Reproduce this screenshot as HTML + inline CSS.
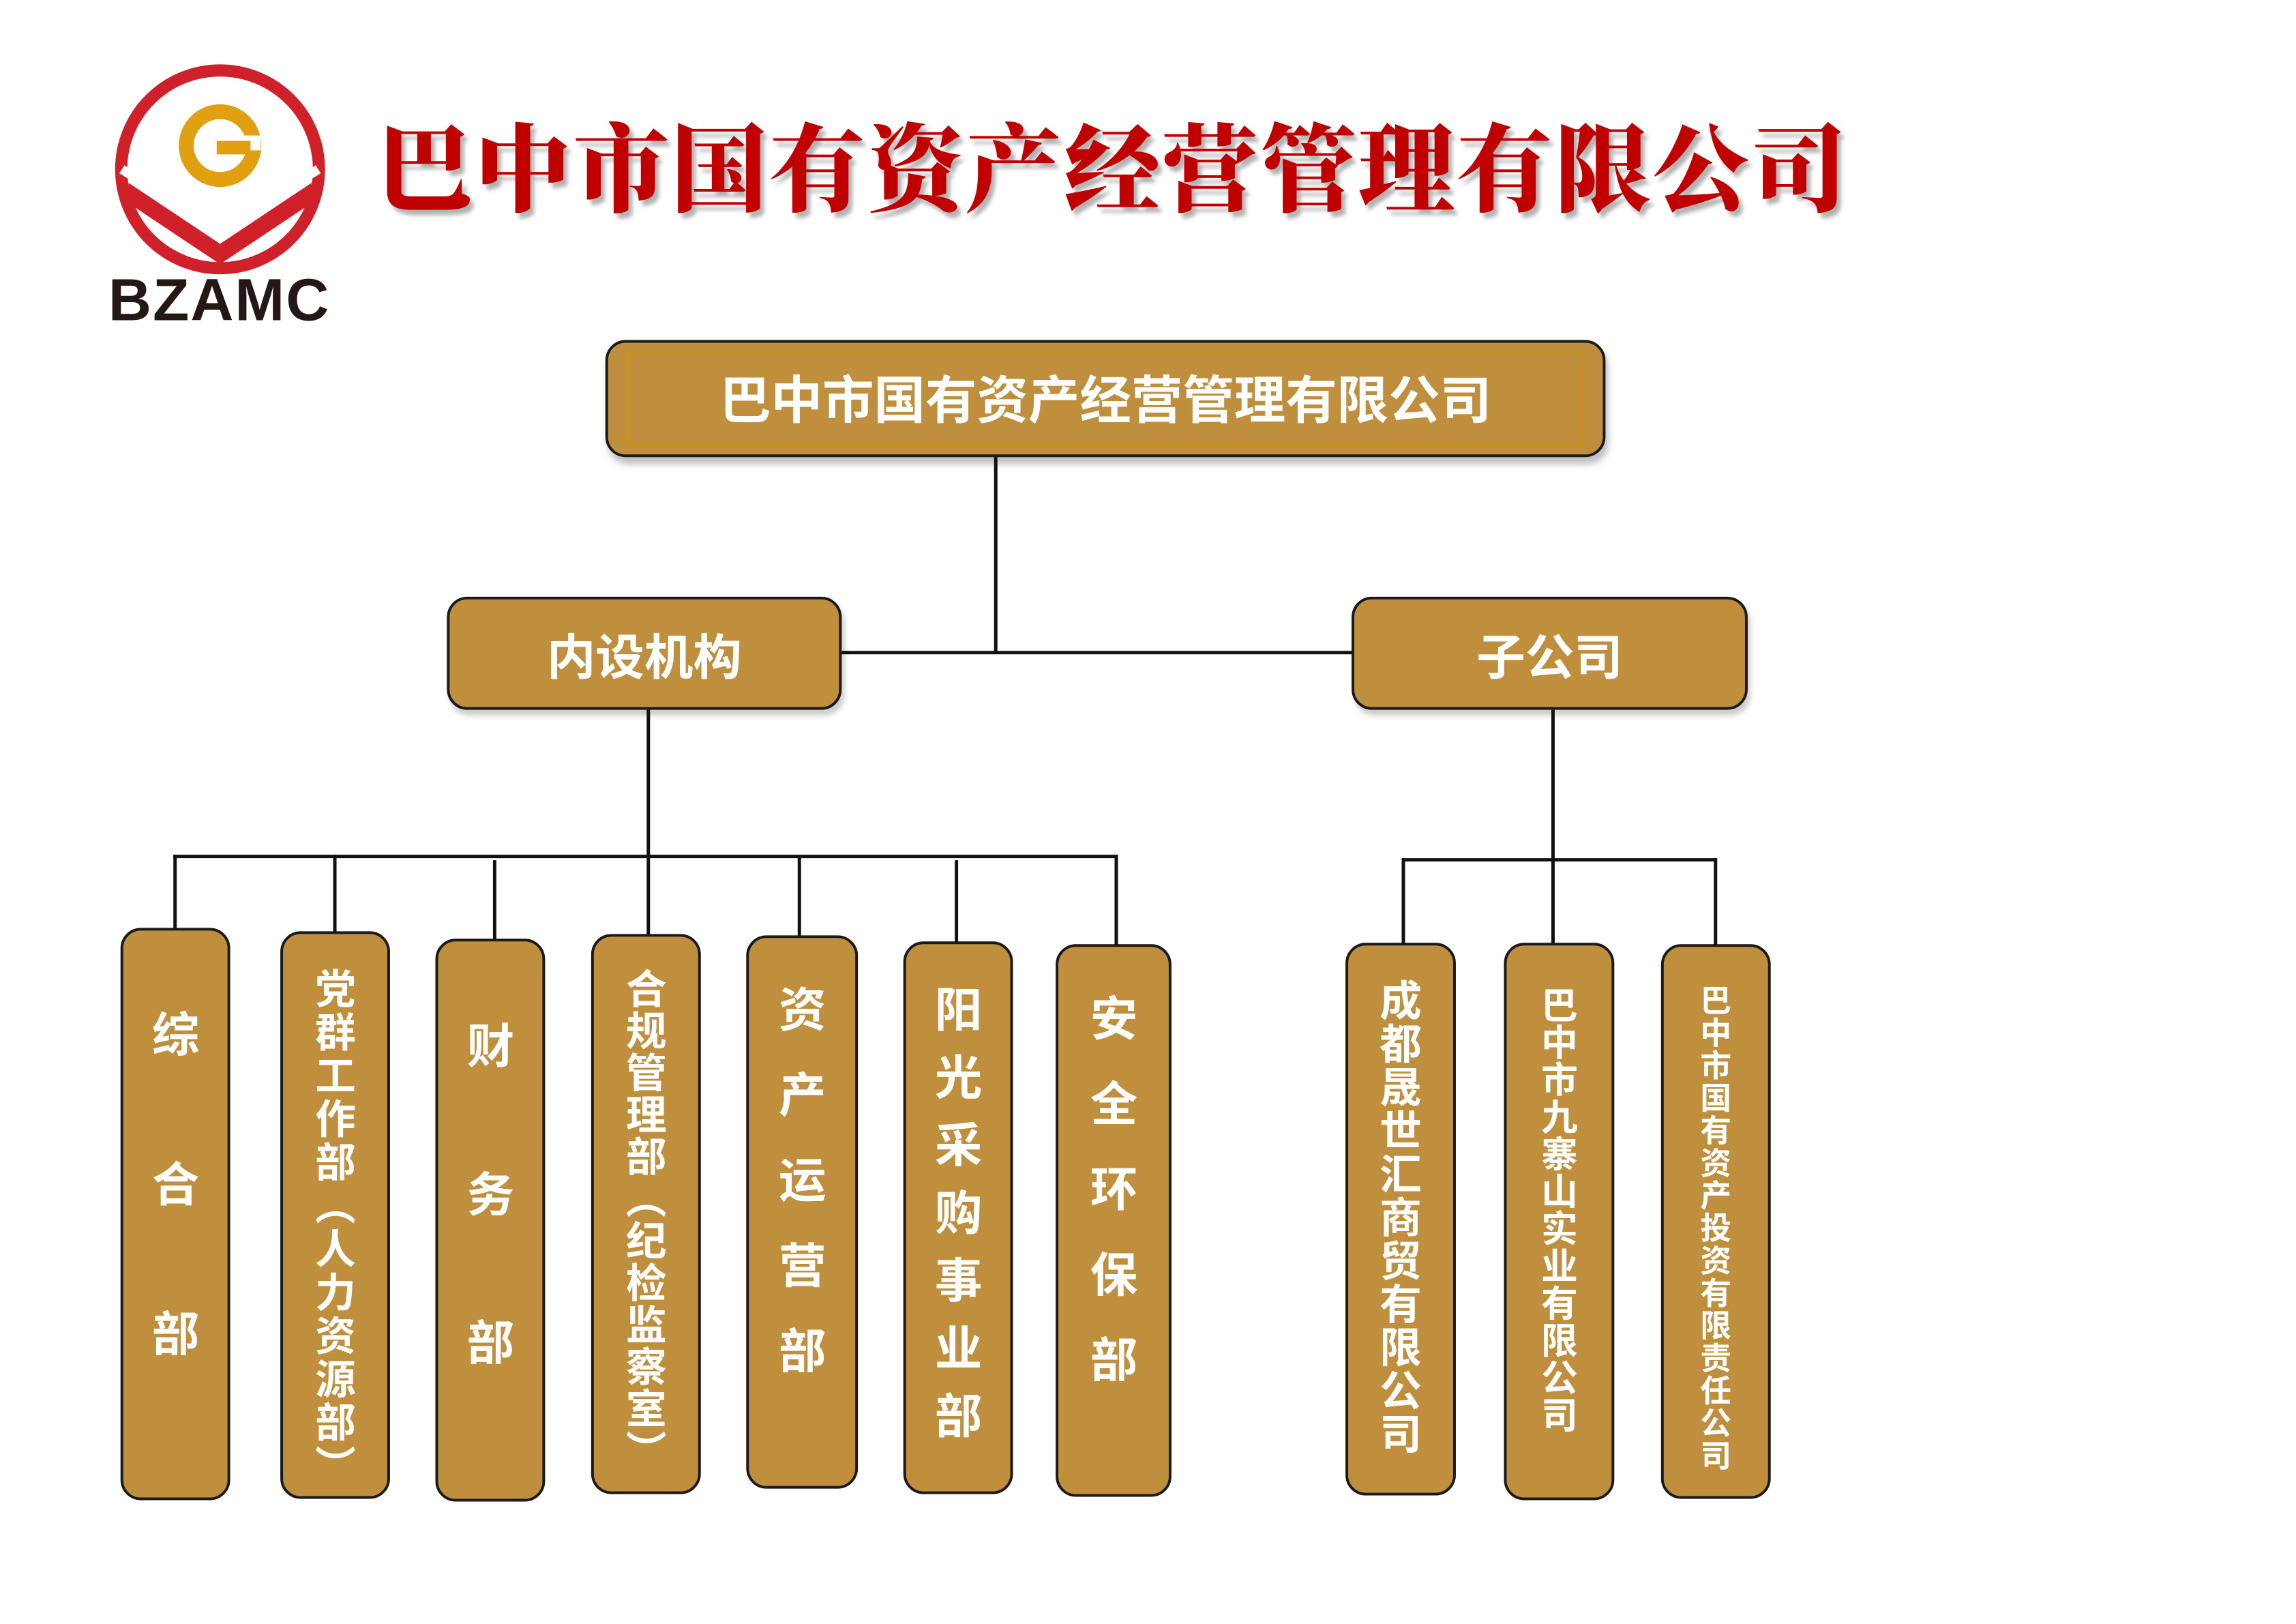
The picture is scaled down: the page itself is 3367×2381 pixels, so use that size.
<!DOCTYPE html>
<html><head><meta charset="utf-8"><style>
body{margin:0;width:3367px;height:2381px;background:#fff;position:relative;overflow:hidden;font-family:"Liberation Sans","Noto Sans CJK SC",sans-serif}
#w{position:absolute;left:0;top:0;width:3367px;height:2381px;transform:scale(0.993);transform-origin:0 0}
.b{position:absolute;background:#bf8f3e;border:4px solid #1a1a1a;border-radius:30px;box-sizing:border-box}
.t{position:absolute;color:#fff;font-weight:700;font-family:"Noto Sans CJK SC",sans-serif;white-space:nowrap}
.v{writing-mode:vertical-rl;text-orientation:upright;left:0;right:0;margin:0 auto;line-height:1}
.l{position:absolute;background:#111}
</style></head><body><div id="w">
<svg style="position:absolute;left:160px;top:90px" width="340" height="320" viewBox="0 -10 340 320">
<circle cx="165" cy="150" r="146" fill="none" stroke="#d0202a" stroke-width="18"/>
<path d="M30 170 L165 260 L300 170 L300 200 L165 290 L30 200Z" fill="#d0202a"/>
<path d="M20 150 L165 240 L310 150" fill="none" stroke="#fff" stroke-width="14"/>
<circle cx="165" cy="115" r="50" fill="none" stroke="#e0a010" stroke-width="22"/>
<rect x="165" y="100" width="60" height="22" fill="#fff"/>
<rect x="160" y="108" width="50" height="20" fill="#e0a010"/>
</svg>
<div class="t" style="left:160px;top:392px;color:#231815;font-family:'Liberation Sans',sans-serif;font-size:88px;font-weight:900;letter-spacing:2px">BZAMC</div>
<div class="t" style="left:556px;top:138px;color:#c00000;font-family:'Noto Serif CJK SC',serif;font-weight:900;font-size:142px;letter-spacing:3px;text-shadow:6px 8px 6px rgba(0,0,0,.3)">巴中市国有资产经营管理有限公司</div>

<div class="b" style="left:894px;top:502px;width:1477px;height:173px;box-shadow:4px 10px 10px rgba(0,0,0,.25)"><div style="position:absolute;left:28px;top:12px;right:28px;bottom:12px;border:3px solid #c89410"></div></div>
<div class="t" style="left:894px;width:1477px;text-align:center;top:540px;font-size:76px;line-height:90px">巴中市国有资产经营管理有限公司</div>

<div class="l" style="left:1468px;top:675px;width:5px;height:290px"></div>
<div class="l" style="left:1243px;top:961px;width:755px;height:5px"></div>

<div class="b" style="left:660px;top:881px;width:583px;height:167px;box-shadow:4px 8px 8px rgba(0,0,0,.2)"></div>
<div class="t" style="left:660px;width:583px;text-align:center;top:920px;font-size:72px;line-height:90px">内设机构</div>
<div class="b" style="left:1996px;top:881px;width:585px;height:167px;box-shadow:4px 8px 8px rgba(0,0,0,.2)"></div>
<div class="t" style="left:1996px;width:585px;text-align:center;top:920px;font-size:72px;line-height:90px">子公司</div>

<div class="l" style="left:955px;top:1048px;width:5px;height:218px"></div>
<div class="l" style="left:256px;top:1262px;width:1394px;height:5px"></div>
<div class="l" style="left:256px;top:1262px;width:5px;height:110px"></div>
<div class="l" style="left:492px;top:1262px;width:5px;height:115px"></div>
<div class="l" style="left:728px;top:1270px;width:5px;height:118px"></div>
<div class="l" style="left:955px;top:1262px;width:5px;height:119px"></div>
<div class="l" style="left:1178px;top:1266px;width:5px;height:117px"></div>
<div class="l" style="left:1410px;top:1270px;width:5px;height:122px"></div>
<div class="l" style="left:1646px;top:1262px;width:5px;height:134px"></div>

<div class="l" style="left:2291px;top:1048px;width:5px;height:346px"></div>
<div class="l" style="left:2070px;top:1267px;width:465px;height:5px"></div>
<div class="l" style="left:2070px;top:1267px;width:5px;height:127px"></div>
<div class="l" style="left:2531px;top:1267px;width:5px;height:129px"></div>

<div class="b" style="left:178px;top:1370px;width:162px;height:845px"><div class="t v" style="top:117px;width:70px;font-size:70px;letter-spacing:151px">综合部</div></div>
<div class="b" style="left:414px;top:1375px;width:162px;height:838px"><div class="t v" style="top:50px;width:60px;font-size:60px;letter-spacing:4px">党群工作部（人力资源部）</div></div>
<div class="b" style="left:643px;top:1386px;width:162px;height:831px"><div class="t v" style="top:118px;width:70px;font-size:70px;letter-spacing:149px">财务部</div></div>
<div class="b" style="left:873px;top:1379px;width:162px;height:827px"><div class="t v" style="top:46px;width:60px;font-size:60px;letter-spacing:2px">合规管理部（纪检监察室）</div></div>
<div class="b" style="left:1102px;top:1381px;width:165px;height:817px"><div class="t v" style="top:69px;width:70px;font-size:70px;letter-spacing:56px">资产运营部</div></div>
<div class="b" style="left:1334px;top:1390px;width:162px;height:816px"><div class="t v" style="top:60px;width:70px;font-size:70px;letter-spacing:30px">阳光采购事业部</div></div>
<div class="b" style="left:1559px;top:1394px;width:171px;height:816px"><div class="t v" style="top:69px;width:70px;font-size:70px;letter-spacing:56px">安全环保部</div></div>
<div class="b" style="left:1987px;top:1392px;width:163px;height:816px"><div class="t v" style="top:49px;width:62px;font-size:62px;letter-spacing:2px">成都晟世汇商贸有限公司</div></div>
<div class="b" style="left:2221px;top:1392px;width:163px;height:823px"><div class="t v" style="top:60px;width:54px;font-size:54px;letter-spacing:1px">巴中市九寨山实业有限公司</div></div>
<div class="b" style="left:2453px;top:1394px;width:162px;height:819px"><div class="t v" style="top:55px;width:46px;font-size:46px;letter-spacing:2px">巴中市国有资产投资有限责任公司</div></div>
</div></body></html>
